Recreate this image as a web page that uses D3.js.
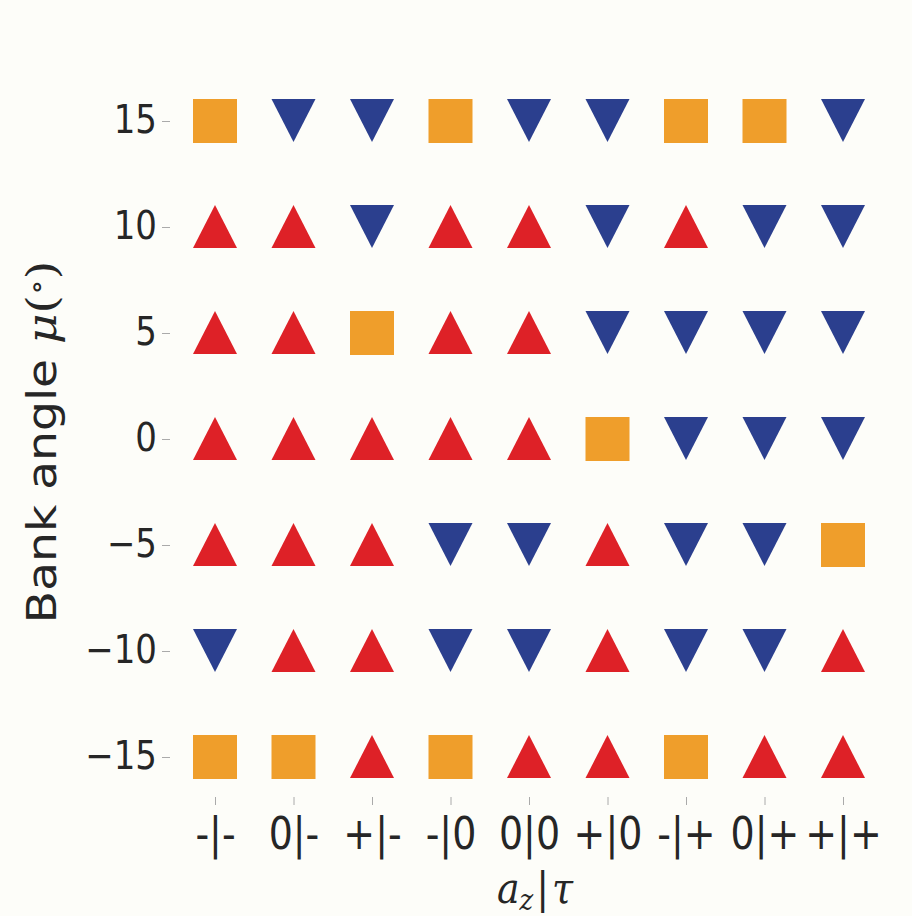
<!DOCTYPE html>
<html>
<head>
<meta charset="utf-8">
<script src="https://cdn.jsdelivr.net/npm/d3@7"></script>
<style>
  html, body { margin: 0; padding: 0; background: #fdfdf9; }
  svg { display: block; }
  .tick text { fill: #262626; }
</style>
</head>
<body>
<svg id="chart" width="912" height="916"></svg>
<script>
// Combinations of vertical acceleration and torque sign
const categories = ["-|-", "0|-", "+|-", "-|0", "0|0", "+|0", "-|+", "0|+", "+|+"];
// Bank angle levels (degrees)
const bankAngles = [15, 10, 5, 0, -5, -10, -15];
// Outcome per bank angle row, per category: 1 = up, 0 = neutral, -1 = down
const row15  = [0, -1, -1, 0, -1, -1, 0, 0, -1];
const row10  = [1, 1, -1, 1, 1, -1, 1, -1, -1];
const row5   = [1, 1, 0, 1, 1, -1, -1, -1, -1];
const row0   = [1, 1, 1, 1, 1, 0, -1, -1, -1];
const rowM5  = [1, 1, 1, -1, -1, 1, -1, -1, 0];
const rowM10 = [-1, 1, 1, -1, -1, 1, -1, -1, 1];
const rowM15 = [0, 0, 1, 0, 1, 1, 0, 1, 1];
const yTicks = [-15, -10, -5, 0, 5, 10, 15];

const rows = [row15, row10, row5, row0, rowM5, rowM10, rowM15];
const points = [];
rows.forEach((r, i) => r.forEach((v, j) => points.push({ cat: categories[j], mu: bankAngles[i], v })));

const svg = d3.select("#chart");
const x = d3.scalePoint().domain(categories).range([215, 843]);
const y = d3.scaleLinear().domain([-15, 15]).range([757, 121]);

const colorOf = { "1": "#de2127", "0": "#ef9e2b", "-1": "#2b3f8e" };
const half = 22;
function shapePath(d) {
  const cx = x(d.cat), cy = y(d.mu);
  if (d.v === 0) {
    return `M${cx - half},${cy - half}H${cx + half}V${cy + half}H${cx - half}Z`;
  } else if (d.v === 1) {
    return `M${cx},${cy - 22}L${cx + 22},${cy + 21}L${cx - 22},${cy + 21}Z`;
  } else {
    return `M${cx - 22},${cy - 22}L${cx + 22},${cy - 22}L${cx},${cy + 21}Z`;
  }
}

svg.append("g").selectAll("path")
  .data(points)
  .join("path")
  .attr("d", shapePath)
  .attr("fill", d => colorOf[String(d.v)]);

// Text is drawn slightly tall (vertical stretch)
const stretch = 1.15;

// Axes: no spines, short light ticks
const xAxis = d3.axisBottom(x).tickSize(8);
const gx = svg.append("g").attr("transform", "translate(0,797)").call(xAxis);
gx.select(".domain").remove();
gx.selectAll(".tick line").attr("stroke", "#aaaaaa").attr("stroke-width", 1);
gx.selectAll(".tick text")
  .attr("font-family", "DejaVu Sans, sans-serif")
  .attr("font-size", 38)
  .attr("y", 0).attr("dy", null)
  .attr("transform", `translate(0,52) scale(1,${stretch})`);

const yAxis = d3.axisLeft(y).tickValues(yTicks).tickSize(8)
  .tickFormat(d => d < 0 ? "\u2212" + Math.abs(d) : String(d));
const gy = svg.append("g").attr("transform", "translate(170,0)").call(yAxis);
gy.select(".domain").remove();
gy.selectAll(".tick line").attr("stroke", "#aaaaaa").attr("stroke-width", 1);
gy.selectAll(".tick text")
  .attr("font-family", "DejaVu Sans, sans-serif")
  .attr("font-size", 34)
  .attr("x", 0).attr("y", 0).attr("dy", null)
  .attr("transform", `translate(-13,11) scale(1,${stretch})`);

// Axis titles
const xl = svg.append("text")
  .attr("transform", `translate(535,903) scale(1,${stretch})`)
  .attr("text-anchor", "middle")
  .attr("font-family", "DejaVu Serif, serif")
  .attr("font-size", 38)
  .attr("fill", "#262626");
xl.append("tspan").attr("font-style", "italic").text("a");
xl.append("tspan").attr("font-style", "italic").attr("font-size", 26).attr("dy", 6).text("z");
xl.append("tspan").attr("dx", 3).attr("dy", -6).text("|");
xl.append("tspan").attr("dx", 3).attr("font-style", "italic").text("τ");

const yl = svg.append("text")
  .attr("transform", `translate(56,442) rotate(-90) scale(${stretch},1)`)
  .attr("text-anchor", "middle")
  .attr("font-family", "DejaVu Sans, sans-serif")
  .attr("font-size", 41)
  .attr("fill", "#262626");
yl.append("tspan").text("Bank angle ");
yl.append("tspan").attr("font-family", "DejaVu Serif, serif").attr("font-style", "italic").text("μ");
yl.append("tspan").attr("font-family", "DejaVu Serif, serif").text("(");
yl.append("tspan").attr("font-family", "DejaVu Serif, serif").attr("font-size", 28).attr("dy", -10).text("∘");
yl.append("tspan").attr("font-family", "DejaVu Serif, serif").attr("dy", 10).text(")");
</script>
</body>
</html>
